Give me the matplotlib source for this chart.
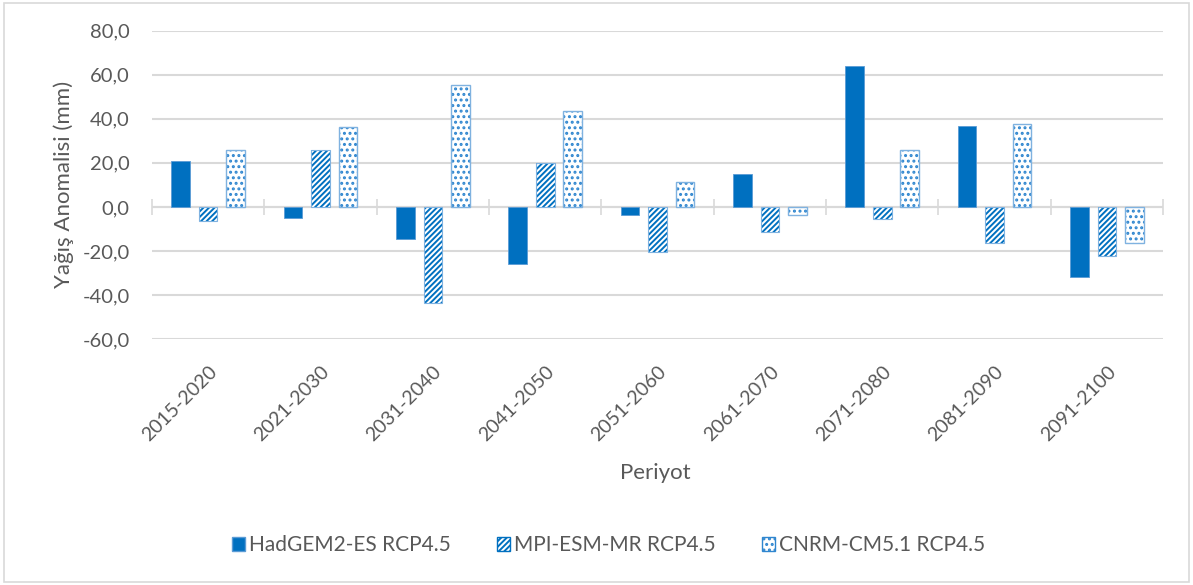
import matplotlib.pyplot as plt
import matplotlib.patches as mpatches
import numpy as np

plt.rcParams['font.family'] = ['Lato', 'DejaVu Sans']
plt.rcParams['hatch.linewidth'] = 1.4

periyot = ['2015-2020', '2021-2030', '2031-2040', '2041-2050', '2051-2060',
           '2061-2070', '2071-2080', '2081-2090', '2091-2100']
hadgem = [20.9, -5.0, -14.4, -26.0, -3.5, 15.0, 64.0, 36.8, -31.8]
mpi = [-6.5, 25.8, -43.6, 19.7, -20.7, -11.4, -5.7, -16.4, -22.4]
cnrm = [25.8, 36.4, 55.5, 43.6, 11.3, -3.5, 26.0, 37.7, -16.3]

blue = '#0070C0'
gri = '#595959'

fig = plt.figure(figsize=(11.93, 5.85), dpi=100)
ax = fig.add_axes([0.1274, 0.4205, 0.8476, 0.527])

x = np.arange(len(periyot))
w = 0.166
off = 0.245
ax.bar(x - off, hadgem, w, color=blue, edgecolor='#5B9BD5', linewidth=0.6, zorder=3)
ax.bar(x, mpi, w, color='white', edgecolor=blue, hatch='//////', linewidth=0, zorder=3)
ax.bar(x, mpi, w, color='none', edgecolor='#7FB2E0', linewidth=0.8, zorder=4)
ax.bar(x + off, cnrm, w, color='white', edgecolor='#2F86CF', hatch='...', linewidth=0, zorder=3)
ax.bar(x + off, cnrm, w, color='none', edgecolor='#7FB2E0', linewidth=1.0, zorder=4)

ax.set_ylim(-60, 80)
ax.set_xlim(-0.5, len(periyot) - 0.5)
ax.set_yticks(np.arange(-60, 81, 20))
ax.set_yticklabels([f'{v:.1f}'.replace('.', ',') for v in np.arange(-60, 81, 20)])
ax.yaxis.grid(True, color='#D9D9D9', linewidth=1.5, zorder=0)
ax.set_axisbelow(True)
for s in ax.spines.values():
    s.set_visible(False)
ax.tick_params(axis='y', length=0, labelsize=14.5, labelcolor=gri, pad=16)
ax.set_xticks(x)
ax.set_xticklabels(periyot, rotation=45, ha='right', rotation_mode='anchor')
ax.tick_params(axis='x', length=0, labelsize=14, labelcolor=gri, pad=17)
ax.axhline(0, color='#D9D9D9', linewidth=1.5, zorder=2)

# kategori sinir isaretleri (0 ekseni uzerinde)
ax2 = ax.twiny()
ax2.set_xlim(ax.get_xlim())
for s in ax2.spines.values():
    s.set_visible(False)
ax2.spines['top'].set_position(('data', 0))
ax2.set_xticks(np.arange(len(periyot) + 1) - 0.5)
ax2.set_xticklabels([])
ax2.tick_params(axis='x', direction='inout', length=12, width=1.2, color='#D9D9D9')

ax.set_ylabel('Yağış Anomalisi (mm)', fontsize=16, color=gri, labelpad=6)
fig.text(0.549, 0.191, 'Periyot', fontsize=16, color=gri, ha='center', va='center')

handles = [
    mpatches.Patch(facecolor=blue, edgecolor='#5B9BD5', label='HadGEM2-ES RCP4.5'),
    mpatches.Patch(facecolor='white', edgecolor=blue, hatch='//////', label='MPI-ESM-MR RCP4.5'),
    mpatches.Patch(facecolor='white', edgecolor='#2F86CF', hatch='...', label='CNRM-CM5.1 RCP4.5'),
]
fig.legend(handles=handles, loc='center', bbox_to_anchor=(0.51, 0.068), ncol=3,
           frameon=False, fontsize=15, labelcolor=gri, handlelength=0.63,
           handleheight=0.7, handletextpad=0.2, columnspacing=2.2)

fig.patches.append(mpatches.Rectangle((0.003, 0.005), 0.994, 0.99, transform=fig.transFigure,
                                      fill=False, edgecolor='#D9D9D9', linewidth=1.2))

fig.savefig('out.png', dpi=100)
